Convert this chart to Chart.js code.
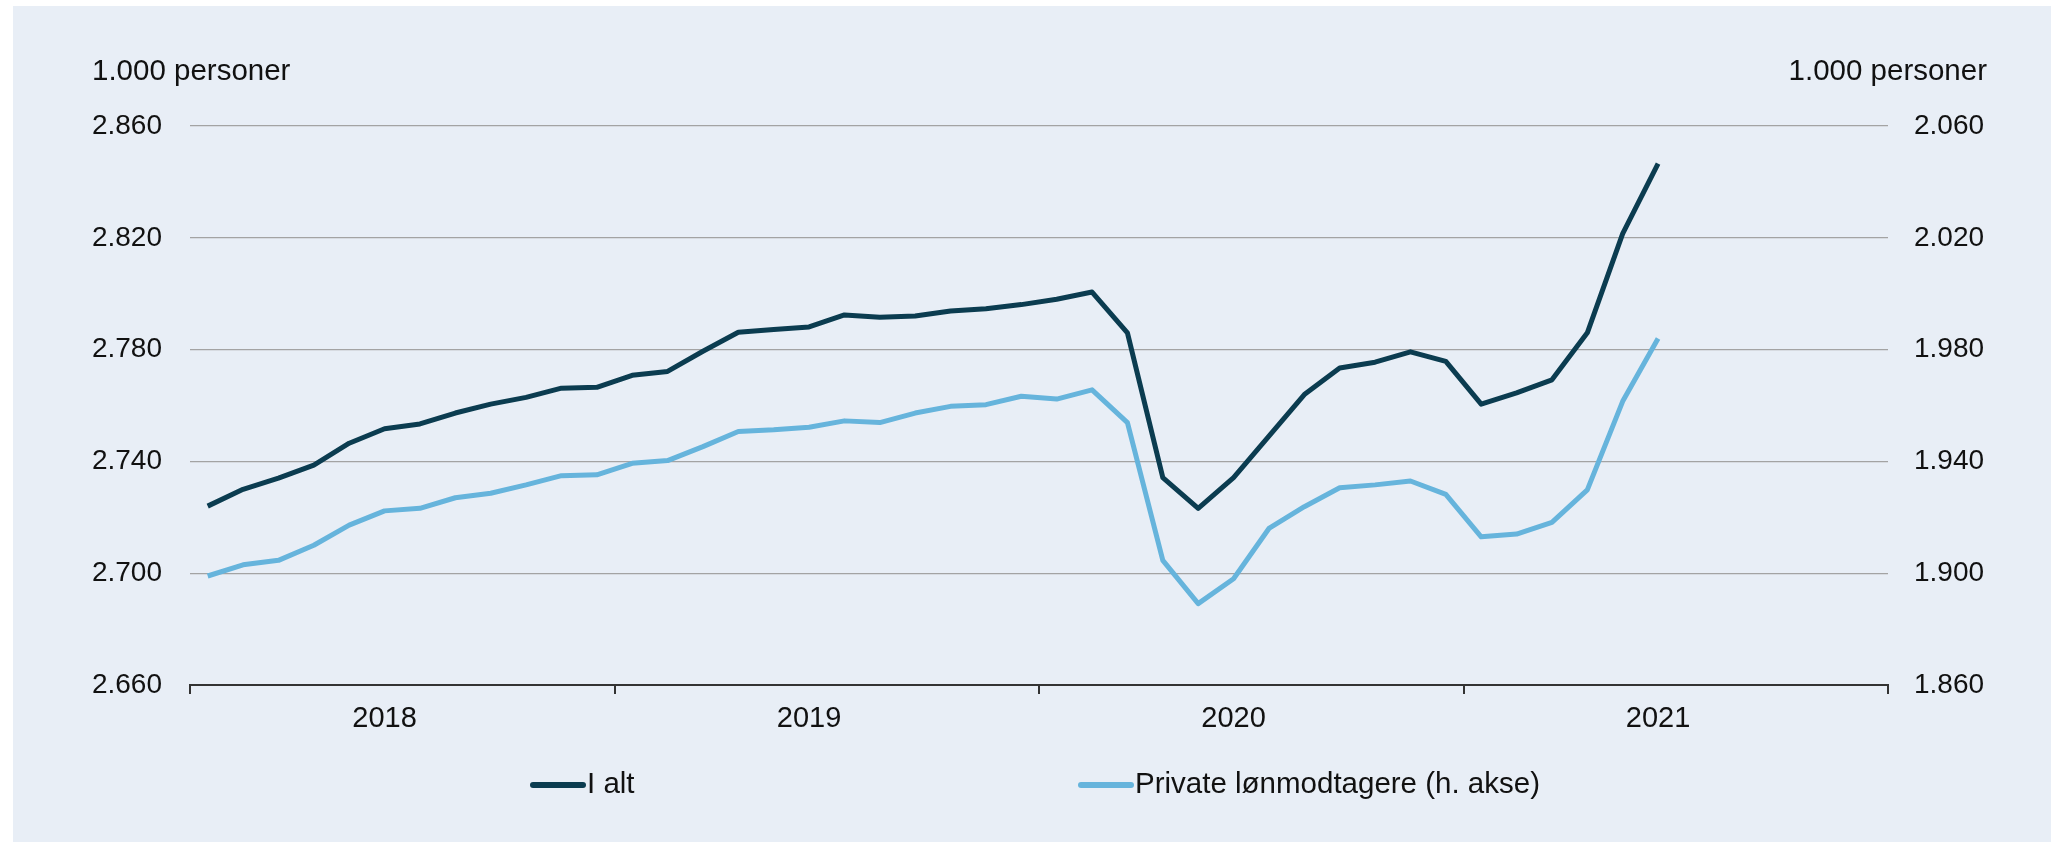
<!DOCTYPE html>
<html lang="da">
<head>
<meta charset="utf-8">
<title>Beskæftigelse</title>
<script src="https://cdn.jsdelivr.net/npm/chart.js@4.4.1/dist/chart.umd.min.js"></script>
<style>
  html, body { margin: 0; padding: 0; background: #fff; }
  #ramme { position: absolute; left: 13px; top: 6px; width: 2038px; height: 836px; background: #e8eef6; }
  canvas { display: block; }
</style>
</head>
<body>
<div id="ramme"><canvas id="beskChart" width="2038" height="836"></canvas></div>
<script>
// ===================
// Data (1.000 personer, månedlig)
// ===================
const aar = ["2018", "2019", "2020", "2021"];
const maaneder = aar.flatMap((a) =>
  Array.from({ length: 12 }, (_, m) => a + "M" + String(m + 1).padStart(2, "0"))
);

// venstre akse
const iAlt = [
  2724.0, 2730.0, 2734.0, 2738.7, 2746.5, 2751.7, 2753.4, 2757.3, 2760.5, 2762.9, 2766.2, 2766.5,
  2770.8, 2772.2, 2779.4, 2786.2, 2787.2, 2788.1, 2792.4, 2791.6, 2792.0, 2793.8, 2794.6, 2796.1,
  2798.0, 2800.6, 2786.0, 2734.2, 2723.2, 2734.2, 2749.0, 2763.9, 2773.4, 2775.5, 2779.2, 2775.8,
  2760.5, 2764.5, 2769.2, 2786.0, 2821.5, 2846.5,
];

// højre akse
const privateLoen = [
  1899.0, 1903.0, 1904.6, 1910.0, 1917.2, 1922.3, 1923.2, 1927.0, 1928.6, 1931.6, 1934.9, 1935.2,
  1939.3, 1940.3, 1945.3, 1950.7, 1951.3, 1952.2, 1954.5, 1953.9, 1957.3, 1959.7, 1960.3, 1963.3,
  1962.3, 1965.6, 1953.9, 1904.6, 1889.1, 1898.0, 1916.0, 1923.8, 1930.6, 1931.6, 1933.0, 1928.2,
  1913.0, 1914.0, 1918.2, 1929.8, 1961.5, 1984.0,
];

const venstreTicks = [2660, 2700, 2740, 2780, 2820, 2860];
const hoejreTicks = [1860, 1900, 1940, 1980, 2020, 2060];
const aksetitel = "1.000 personer";
const serieNavne = ["I alt", "Private lønmodtagere (h. akse)"];

const MOERK = "#0b3c50";
const LYS = "#66b4dc";
const TEKST = "#111111";
const FONT = "'Liberation Sans', Arial, sans-serif";

// dansk tusindtalsseparator
function fmt(v) {
  const t = Math.floor(v / 1000);
  return t + "." + String(Math.round(v - t * 1000)).padStart(3, "0");
}

Chart.defaults.font.family = FONT;
Chart.defaults.font.size = 28;
Chart.defaults.color = TEKST;

// titler over akserne + forklaring under diagrammet
const ekstraTekst = {
  id: "ekstraTekst",
  afterDraw(chart) {
    const { ctx, chartArea } = chart;
    ctx.save();
    ctx.font = "29.5px " + FONT;
    ctx.fillStyle = TEKST;
    ctx.textBaseline = "middle";
    ctx.textAlign = "left";
    ctx.fillText(aksetitel, 79, 66);
    ctx.textAlign = "right";
    ctx.fillText(aksetitel, chartArea.right + 99, 66);

    // forklaring
    const midt = (chartArea.left + chartArea.right) / 2;
    const poster = [
      { x: midt - 509, farve: MOERK, tekst: serieNavne[0] },
      { x: midt + 39, farve: LYS, tekst: serieNavne[1] },
    ];
    const y = 779;
    ctx.textAlign = "left";
    poster.forEach((p) => {
      ctx.strokeStyle = p.farve;
      ctx.lineWidth = 6;
      ctx.lineCap = "round";
      ctx.beginPath();
      ctx.moveTo(p.x + 3, y);
      ctx.lineTo(p.x + 53, y);
      ctx.stroke();
      ctx.fillText(p.tekst, p.x + 57, y);
    });
    ctx.restore();
  },
};

new Chart(document.getElementById("beskChart"), {
  type: "line",
  data: {
    labels: maaneder,
    datasets: [
      {
        label: serieNavne[0],
        data: iAlt,
        borderColor: MOERK,
        borderWidth: 5,
        borderJoinStyle: "round",
        pointRadius: 0,
        tension: 0,
        yAxisID: "y",
      },
      {
        label: serieNavne[1],
        data: privateLoen,
        borderColor: LYS,
        borderWidth: 5,
        borderJoinStyle: "round",
        pointRadius: 0,
        tension: 0,
        yAxisID: "y1",
      },
    ],
  },
  options: {
    responsive: false,
    animation: false,
    devicePixelRatio: 1,
    layout: { padding: { left: 79, right: 65, top: 120, bottom: 97 } },
    plugins: {
      legend: { display: false },
      tooltip: { enabled: false },
    },
    scales: {
      x: {
        type: "category",
        offset: true,
        afterFit: (s) => { s.height = 60; },
        grid: {
          offset: true,
          drawOnChartArea: false,
          tickLength: 9,
          lineWidth: 2,
          color: (c) => (c.index === undefined || c.index % 12 === 0 ? "#333333" : "rgba(0,0,0,0)"),
        },
        border: { display: true, color: "#333333", width: 2 },
        ticks: {
          autoSkip: false,
          maxRotation: 0,
          padding: 8,
          font: { size: 29 },
          callback: (v, i) => (i % 12 === 5 ? aar[Math.floor(i / 12)] : ""),
        },
      },
      y: {
        position: "left",
        min: venstreTicks[0],
        max: venstreTicks[venstreTicks.length - 1],
        afterBuildTicks: (s) => { s.ticks = venstreTicks.map((v) => ({ value: v })); },
        afterFit: (s) => { s.width = 98; },
        border: { display: false },
        grid: {
          drawTicks: false,
          lineWidth: 1.3,
          color: (c) => (c.tick && c.tick.value === venstreTicks[0] ? "rgba(0,0,0,0)" : "#a3a3a3"),
        },
        ticks: { padding: 28, callback: (v) => fmt(v) },
      },
      y1: {
        position: "right",
        min: hoejreTicks[0],
        max: hoejreTicks[hoejreTicks.length - 1],
        afterBuildTicks: (s) => { s.ticks = hoejreTicks.map((v) => ({ value: v })); },
        afterFit: (s) => { s.width = 98; },
        border: { display: false },
        grid: { drawOnChartArea: false, drawTicks: false },
        ticks: { padding: 26, callback: (v) => fmt(v) },
      },
    },
  },
  plugins: [ekstraTekst],
});
</script>
</body>
</html>
